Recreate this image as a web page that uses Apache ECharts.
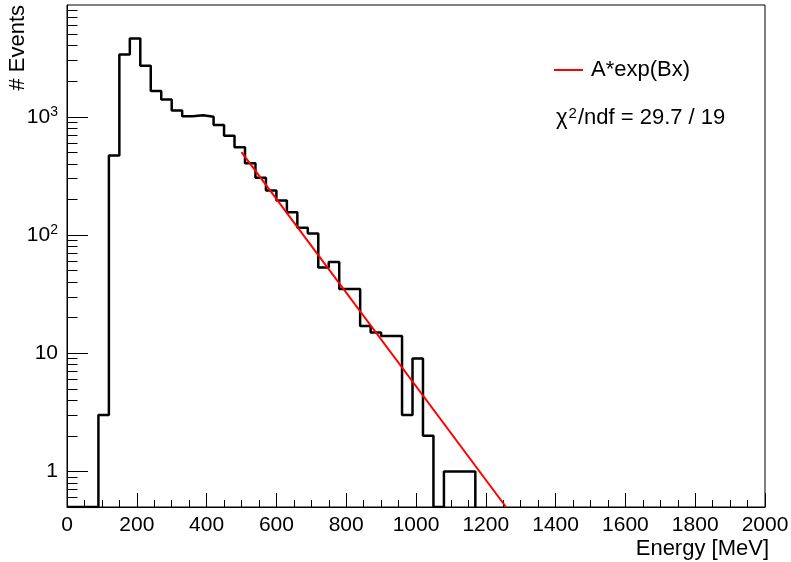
<!DOCTYPE html>
<html>
<head>
<meta charset="utf-8">
<script src="https://cdn.jsdelivr.net/npm/echarts@6/dist/echarts.min.js"></script>
<style>
html,body{margin:0;padding:0;background:#fff;}
#chart{width:791px;height:562px;}
</style>
</head>
<body>
<div id="chart"></div>
<script>
// ---- data ----
const binStart = 0;
const binWidth = 30;
const counts = [0, 0, 0, 3, 470, 3360, 4590, 2700, 1650, 1400, 1130, 1010, 1030, 1000, 850, 690,
  553, 405, 305, 238, 196, 156, 115, 103, 53, 59, 35, 35, 17, 15, 14, 14, 3, 9, 2, 0, 1, 1, 1];
const fitX = [500, 1258];
const fitY = [502, 0.5];
const xTickValues = [0, 200, 400, 600, 800, 1000, 1200, 1400, 1600, 1800, 2000];
const xTickLabels = ['0', '200', '400', '600', '800', '1000', '1200', '1400', '1600', '1800', '2000'];
const yTickValues = [1, 10, 100, 1000];
const yTickLabels = ['1', '10', '10{sup|2}', '10{sup|3}'];
const yMinorTicks = [0.6, 0.7, 0.8, 0.9, 2, 3, 4, 5, 6, 7, 8, 9, 20, 30, 40, 50, 60, 70, 80, 90,
  200, 300, 400, 500, 600, 700, 800, 900, 2000, 3000, 4000, 5000, 6000, 7000, 8000];
const legendName = 'A*exp(Bx)';
const chiText = '\u03c7{sup|2}/ndf = 29.7 / 19';
const xTitle = 'Energy [MeV]';
const yTitle = '# Events';

const yMin = 0.5, yMax = 8820;
const FONT = 'Liberation Sans, Arial, Helvetica, sans-serif';

// histogram outline from the bins
const histPts = [[binStart, yMin]];
counts.forEach((c, i) => {
  const x0 = binStart + i * binWidth, x1 = x0 + binWidth;
  const v = c > 0 ? c : yMin;
  histPts.push([x0, v], [x1, v]);
});
histPts.push([binStart + counts.length * binWidth, yMin]);
const fitPts = fitX.map((x, i) => [x, fitY[i]]);

const chart = echarts.init(document.getElementById('chart'), null, {renderer: 'canvas'});
const yLabelMap = {}, xLabelMap = {};
yTickValues.forEach((v, i) => yLabelMap[v] = yTickLabels[i]);
xTickValues.forEach((v, i) => xLabelMap[v] = xTickLabels[i]);

chart.setOption({
  animation: false,
  backgroundColor: '#fff',
  textStyle: {fontFamily: FONT},
  grid: {left: 67, right: 26, top: 5, bottom: 55, show: true, borderColor: '#000', borderWidth: 1,
    backgroundColor: 'transparent', containLabel: false, outerBoundsMode: 'none'},
  legend: {
    data: [{name: legendName, icon: 'rect'}],
    left: 554, top: 59, padding: 0,
    itemWidth: 29, itemHeight: 2,
    textStyle: {fontFamily: FONT, fontSize: 22, color: '#000', padding: [0, 0, 0, 3]},
    selectedMode: false
  },
  graphic: [
    {type: 'text', left: 556, top: 106, style: {
      text: chiText, fontFamily: FONT, fontSize: 22, fill: '#000',
      rich: {sup: {fontSize: 15, verticalAlign: 'top', padding: [0, 1, 9, 1], fontFamily: FONT}}
    }}
  ],
  xAxis: {
    type: 'value', min: 0, max: 2000, interval: 200,
    name: xTitle, nameLocation: 'end', nameGap: 4,
    nameTextStyle: {fontFamily: FONT, fontSize: 22, color: '#000', align: 'right', verticalAlign: 'top', padding: [31, 0, 0, 0]},
    axisLine: {show: true, lineStyle: {color: '#000', width: 1}},
    axisTick: {show: true, inside: true, length: 14, lineStyle: {color: '#000'}},
    minorTick: {show: true, splitNumber: 4, length: 7, lineStyle: {color: '#000'}},
    axisLabel: {color: '#000', fontSize: 21, fontFamily: FONT, margin: 8, showMinLabel: true, showMaxLabel: true,
      formatter: v => xLabelMap[v] !== undefined ? xLabelMap[v] : String(v)},
    splitLine: {show: false}, minorSplitLine: {show: false}
  },
  yAxis: [
    {
      type: 'log', logBase: 10, min: yMin, max: yMax,
      name: yTitle, nameLocation: 'end', nameRotate: 90, nameGap: 0,
      nameTextStyle: {fontFamily: FONT, fontSize: 22, color: '#000', align: 'right', verticalAlign: 'bottom', padding: [0, 0, 38, 0]},
      axisLine: {show: true, lineStyle: {color: '#000', width: 1}},
      axisTick: {show: true, inside: true, length: 21, customValues: yTickValues, lineStyle: {color: '#000'}},
      axisLabel: {
        color: '#000', fontSize: 21, fontFamily: FONT, margin: 9, customValues: yTickValues,
        formatter: v => yLabelMap[v] !== undefined ? yLabelMap[v] : '',
        rich: {sup: {fontSize: 14, verticalAlign: 'top', padding: [0, 0, 9, 0], fontFamily: FONT}}
      },
      splitLine: {show: false}
    },
    {
      type: 'log', logBase: 10, min: yMin, max: yMax, position: 'left',
      axisLine: {show: false},
      axisTick: {show: true, inside: true, length: 10.5, customValues: yMinorTicks, lineStyle: {color: '#000'}},
      axisLabel: {show: false},
      splitLine: {show: false}
    }
  ],
  series: [
    {
      name: 'hist', type: 'line', data: histPts, showSymbol: false, symbol: 'none',
      lineStyle: {color: '#000', width: 2.5}, clip: true, silent: true, z: 2
    },
    {
      name: legendName, type: 'line', data: fitPts, showSymbol: false, symbol: 'none',
      itemStyle: {color: '#ff0000'},
      lineStyle: {color: '#ff0000', width: 2}, clip: true, silent: true, z: 3
    }
  ]
});
</script>
</body>
</html>
